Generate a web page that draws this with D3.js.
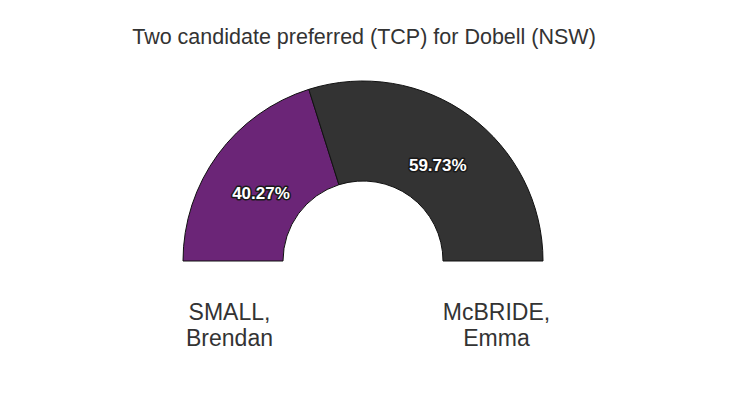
<!DOCTYPE html>
<html><head><meta charset="utf-8">
<script src="https://cdn.jsdelivr.net/npm/d3@7"></script>
<style>body{margin:0;background:#fff;}svg{display:block;font-family:"Liberation Sans",Arial,sans-serif;}</style>
</head><body>
<script>
const title = "Two candidate preferred (TCP) for Dobell (NSW)";
const candidates = ["SMALL, Brendan", "McBRIDE, Emma"];
const nameLines = [["SMALL,", "Brendan"], ["McBRIDE,", "Emma"]];
const shares = [40.27, 59.73];
const colors = ["#6b2577", "#333333"];

const W = 732, H = 394, cx = 363, cy = 261, rOuter = 180, rInner = 80;
const svg = d3.select("body").append("svg").attr("width", W).attr("height", H);

svg.append("text").attr("x", 364).attr("y", 44).attr("text-anchor", "middle")
  .attr("font-size", 21.5).attr("fill", "#333").text(title);

const data = candidates.map((c, i) => ({name: c, value: shares[i], color: colors[i], lines: nameLines[i]}));
const pie = d3.pie().value(d => d.value).sort(null).startAngle(-Math.PI / 2).endAngle(Math.PI / 2);
const arc = d3.arc().innerRadius(rInner).outerRadius(rOuter);
const labelArc = d3.arc().innerRadius(126.5).outerRadius(126.5);
const arcs = pie(data);

const g = svg.append("g").attr("transform", `translate(${cx},${cy})`);
g.selectAll("path").data(arcs).join("path")
  .attr("d", arc).attr("fill", d => d.data.color)
  .attr("stroke", "#111").attr("stroke-width", 1);

g.selectAll("text.pct").data(arcs).join("text").attr("class", "pct")
  .attr("transform", d => { const c = labelArc.centroid(d); return `translate(${c[0]},${c[1] + 6.5})`; })
  .attr("text-anchor", "middle").attr("dy", "0.35em")
  .attr("font-size", 17).attr("font-weight", "bold")
  .attr("fill", "#fff").attr("stroke", "#1a1a1a").attr("stroke-width", 3)
  .attr("paint-order", "stroke").attr("stroke-linejoin", "round")
  .text(d => d.data.value.toFixed(2) + "%");

const xs = d3.scalePoint().domain(candidates).range([-133.5, 133.5]);
const nl = g.selectAll("text.name").data(data).join("text").attr("class", "name")
  .attr("text-anchor", "middle").attr("font-size", 23).attr("fill", "#333");
nl.each(function(d) {
  const t = d3.select(this);
  d.lines.forEach((ln, j) => {
    t.append("tspan").attr("x", xs(d.name)).attr("y", 59 + j * 26).text(ln);
  });
});
</script>
</body></html>
